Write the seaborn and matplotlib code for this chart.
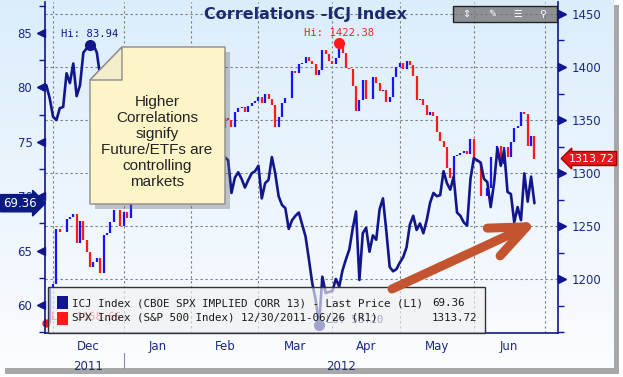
import numpy as np
import pandas as pd
import matplotlib
matplotlib.use("Agg")
import matplotlib.pyplot as plt
from matplotlib.patches import Polygon, Rectangle, FancyArrowPatch
from matplotlib.ticker import MultipleLocator
import seaborn as sns

# ---- data ----
holidays = ['2011-12-26', '2012-01-02', '2012-01-16', '2012-02-20', '2012-04-06', '2012-05-28']

icj_values = [
    80.2, 79.0, 77.3, 77.0, 78.1, 78.2, 81.3, 80.4, 82.2, 79.2, 80.2, 83.2, 83.6, 83.94, 83.9, 83.2, 81.0,
    80.2, 79.5, 80.1, 78.8, 79.3, 78.1, 77.4, 78.0, 76.9, 77.5, 76.2, 76.8, 75.9, 75.1, 75.8, 74.6, 75.3,
    74.2, 73.6, 74.4, 73.1, 73.8, 72.9, 73.5, 72.4, 73.2, 72.0, 72.8, 71.9, 72.6, 73.4, 72.5, 73.9, 73.0,
    74.1, 73.4, 73.6,
    73.3, 70.3, 71.7, 72.2, 71.6, 70.8, 71.5, 72.1, 72.3, 72.8, 69.8, 71.2, 71.5, 73.6, 72.1, 70.0, 69.2,
    68.9, 67.0, 67.8, 68.2, 68.5, 67.4, 66.3, 64.2, 62.0, 60.5, 58.2, 62.6, 61.1, 61.2, 61.3, 62.4, 61.7,
    63.2, 64.2, 65.1, 67.0, 68.6, 62.3, 66.6, 67.1, 64.9, 66.4, 66.0, 68.8, 69.8, 66.8, 63.5, 63.1, 63.3,
    63.9, 64.4, 65.3, 67.4, 68.2, 66.9, 67.5, 66.6, 67.8, 69.4, 70.3, 70.0, 70.1, 72.3, 71.2, 70.6, 71.8,
    68.5, 68.2, 67.6, 67.3, 71.6, 73.5, 73.3, 73.1, 71.6, 71.3, 69.0, 71.2, 74.4, 72.8, 74.2, 70.4, 70.2,
    67.6, 69.0, 67.8, 72.1, 69.5, 71.8, 69.36,
]

spx_prev_close = 1161.79
spx_close = [
    1158.67, 1192.55, 1195.19, 1246.96,
    1244.58, 1244.28, 1257.08, 1258.47, 1261.01, 1234.35, 1255.19, 1236.47, 1225.73, 1211.82, 1215.75,
    1219.66, 1205.35, 1241.30, 1243.72, 1254.00, 1265.33, 1265.43, 1249.64, 1263.02, 1257.60,
    1277.06, 1277.30, 1281.06, 1277.81, 1280.70, 1292.08, 1292.48, 1295.50, 1289.09, 1293.67, 1308.04,
    1314.50, 1315.38, 1316.00, 1314.65, 1326.06, 1318.43, 1316.33, 1313.01, 1312.41,
    1324.09, 1325.54, 1344.90, 1344.33, 1347.05, 1349.96, 1351.95, 1342.64, 1351.77, 1350.50, 1343.23,
    1358.04, 1361.23, 1362.21, 1357.66, 1363.46, 1365.74, 1367.59, 1372.18, 1365.68,
    1374.09, 1369.63, 1364.33, 1343.36, 1352.63, 1365.91, 1370.87, 1371.09, 1395.95, 1394.28, 1402.60,
    1404.17, 1409.75, 1405.52, 1402.89, 1392.78, 1397.11, 1416.51, 1412.52, 1405.54, 1403.28, 1408.47,
    1419.04, 1413.38, 1398.96, 1398.08, 1382.20, 1358.59, 1368.71, 1387.57, 1370.26, 1369.57, 1390.78,
    1385.14, 1376.92, 1378.53, 1366.94, 1371.97, 1390.69, 1399.98, 1403.36, 1397.91,
    1405.82, 1402.31, 1391.57, 1369.10, 1369.58, 1363.72, 1354.58, 1357.99, 1353.39, 1338.35, 1330.66,
    1324.80, 1304.86, 1295.22, 1315.99, 1316.63, 1318.86, 1320.68, 1317.82, 1332.42, 1313.32, 1310.33,
    1278.04, 1278.18, 1285.50, 1315.13, 1314.99, 1325.66, 1308.93, 1324.18, 1314.88, 1329.10, 1342.84,
    1344.78, 1357.98, 1355.69, 1325.51, 1335.02, 1313.72,
]

spx_hi, spx_hi_date = 1422.38, '2012-04-02'
spx_lo, spx_lo_date = 1158.66, '2011-11-25'
month_names = ['Dec', 'Jan', 'Feb', 'Mar', 'Apr', 'May', 'Jun']
year_names = ['2011', '2012']
note_lines = ['Higher', 'Correlations', 'signify', 'Future/ETFs are', 'controlling', 'markets']
legend_rows = ['ICJ Index (CBOE SPX IMPLIED CORR 13) - Last Price (L1)',
               'SPX Index (S&P 500 Index) 12/30/2011-06/26 (R1)']
title = 'Correlations -ICJ Index'

# ---- frame ----
hol = pd.to_datetime(holidays)
dates = pd.bdate_range('2011-11-25', '2012-06-25')
dates = dates[~dates.isin(hol)]
df = pd.DataFrame({'date': dates, 'icj': icj_values, 'spx': spx_close})
df['idx'] = np.arange(len(df))
df['prev'] = df['spx'].shift(1).fillna(spx_prev_close)
df['up'] = df['spx'] >= df['prev']

full = pd.bdate_range('2011-11-25', '2012-07-02')
full = full[~full.isin(hol)]
per = full.to_period('M')
starts = [i for i in range(1, len(full)) if per[i] != per[i - 1]]
bounds = np.array(starts) - 2.0
mids = (bounds[:-1] + bounds[1:]) / 2

navy = '#12168c'
tick_navy = '#1b2a80'
blue = '#1414ff'
red = '#ff1a1a'

W, H = 623, 377
def fx(px):
    return px / W
def fy(py):
    return 1 - py / H

sns.set_style('white')
plt.rcParams['font.family'] = ['DejaVu Sans']

fig = plt.figure(figsize=(6.23, 3.77), dpi=100)

# shadow + gradient background
fig.patches.append(Rectangle((fx(5), fy(374)), fx(614), fy(5) - fy(374), transform=fig.transFigure,
                             fc='#a8a8a8', ec='none', zorder=-20))
bg = fig.add_axes([0, fy(368), fx(614), fy(0) - fy(368)], zorder=-10)
grad = np.linspace(0, 1, 256)[:, None]
top = np.array([0.86, 0.93, 0.985])
bot = np.array([0.985, 0.99, 1.0])
img = top[None, None, :] * (1 - grad[:, :, None]) + bot[None, None, :] * grad[:, :, None]
bg.imshow(img, aspect='auto', extent=[0, 1, 0, 1])
bg.axis('off')

ax = fig.add_axes([fx(45), fy(333), fx(558) - fx(45), fy(2) - fy(333)])
ax2 = ax.twinx()
ax.set_zorder(2)
ax2.set_zorder(1)
ax.patch.set_visible(False)
ax2.patch.set_visible(False)

ax.set_xlim(-0.4, 152.0)
ax.set_ylim(57.43, 87.85)
ax2.set_ylim(1149.2, 1461.3)

# grid
for b in bounds:
    ax2.axvline(b, color='#7a7a7a', lw=0.8, ls=(0, (2, 2.5)), zorder=0)
for v in range(1200, 1451, 50):
    ax2.axhline(v, color='#7a7a7a', lw=0.8, ls=(0, (2, 2.5)), zorder=0)

# SPX bars (right axis)
ax2.vlines(df['idx'], np.minimum(df['prev'], df['spx']), np.maximum(df['prev'], df['spx']),
           colors=np.where(df['up'], blue, red), lw=1.6, zorder=2)

# ICJ line (left axis)
sns.lineplot(data=df, x='idx', y='icj', ax=ax, color=navy, lw=1.9, legend=False)
ax.set_xlabel('')
ax.set_ylabel('')

# hi / lo markers
i_hi = int(df['icj'].idxmax())
i_lo = int(df['icj'].idxmin())
ax.plot(i_hi, df['icj'][i_hi], 'o', ms=7, color=navy, zorder=5)
ax.annotate(f"Hi: {df['icj'][i_hi]:.2f}", (i_hi, df['icj'][i_hi]), xytext=(0, 4),
            textcoords='offset points', ha='center', va='bottom', color=navy,
            family='DejaVu Sans Mono', size=7.6, annotation_clip=False)
ax.plot(i_lo, df['icj'][i_lo], 'o', ms=7, color=navy, zorder=5)
ax.annotate(f"Lo: {df['icj'][i_lo]:.2f}", (i_lo, df['icj'][i_lo]), xytext=(5, 3),
            textcoords='offset points', ha='left', va='center', color=navy,
            family='DejaVu Sans Mono', size=7.6, annotation_clip=False)
j_hi = int(df.index[df['date'] == spx_hi_date][0])
j_lo = int(df.index[df['date'] == spx_lo_date][0])
ax2.plot(j_hi, spx_hi, 'o', ms=7, color=red, zorder=5)
ax2.annotate(f"Hi: {spx_hi:.2f}", (j_hi, spx_hi), xytext=(0, 4), textcoords='offset points',
             ha='center', va='bottom', color='#ff2020', family='DejaVu Sans Mono', size=7.6,
             annotation_clip=False)
ax2.plot(j_lo, spx_lo, 'o', ms=5, color=red, zorder=5, clip_on=False)
ax2.annotate(f"Lo: {spx_lo:.2f}", (j_lo, spx_lo), xytext=(3, 4), textcoords='offset points',
             ha='left', va='center', color='#ff2020', family='DejaVu Sans Mono', size=7.6,
             annotation_clip=False)

# spines
for a in (ax, ax2):
    a.spines['top'].set_visible(False)
ax.spines['right'].set_visible(False)
ax2.spines['left'].set_visible(False)
ax2.spines['bottom'].set_visible(False)
ax.spines['left'].set_color(navy)
ax.spines['bottom'].set_color(navy)
ax2.spines['right'].set_color(navy)
for s in (ax.spines['left'], ax.spines['bottom'], ax2.spines['right']):
    s.set_linewidth(1.2)

# y ticks
left_ticks = [60, 65, 70, 75, 80, 85]
right_ticks = [1200, 1250, 1300, 1350, 1400, 1450]
ax.set_yticks(left_ticks)
ax.yaxis.set_minor_locator(MultipleLocator(2.5))
ax.tick_params(axis='y', which='major', length=0, pad=9, labelcolor=tick_navy, labelsize=8.5)
ax.tick_params(axis='y', which='minor', length=4, color=navy, width=1)
ax.plot(np.full(len(left_ticks), -0.008), left_ticks, ls='', marker='<', ms=5.5, color=navy,
        transform=ax.get_yaxis_transform(), clip_on=False)
ax2.set_yticks(right_ticks)
ax2.yaxis.set_minor_locator(MultipleLocator(25))
ax2.tick_params(axis='y', which='major', length=0, pad=10, labelcolor=tick_navy, labelsize=8.5)
ax2.tick_params(axis='y', which='minor', length=4, color=navy, width=1)
ax2.plot(np.full(len(right_ticks), 1.008), right_ticks, ls='', marker='>', ms=5.5, color=navy,
         transform=ax2.get_yaxis_transform(), clip_on=False)

# x ticks
ax.set_xticks(bounds)
ax.set_xticklabels([''] * len(bounds))
ax.set_xticks(mids, minor=True)
ax.set_xticklabels(month_names, minor=True)
ax.tick_params(axis='x', which='major', length=5, color=navy, width=1)
ax.tick_params(axis='x', which='minor', length=0, pad=5, labelcolor=tick_navy, labelsize=8.5)
xt = ax.get_xaxis_transform()
ax.text(mids[0], -0.082, year_names[0], transform=xt, ha='center', va='top', color=tick_navy, size=8.5)
ax.text((bounds[1] + bounds[-1]) / 2 + 2, -0.082, year_names[1], transform=xt, ha='center', va='top',
        color=tick_navy, size=8.5)
ax.plot([bounds[1], bounds[1]], [-0.06, -0.105], transform=xt, color='#8a8ac0', lw=0.8, clip_on=False)

# last value tags
ax.text(-0.017, df['icj'].iloc[-1], f"{df['icj'].iloc[-1]:.2f}", transform=ax.get_yaxis_transform(),
        ha='right', va='center', color='white', size=8.5, zorder=6, clip_on=False,
        bbox=dict(boxstyle='rarrow,pad=0.18', fc='#0a1a80', ec='#0a1a80'))
ax2.text(1.021, df['spx'].iloc[-1], f"{df['spx'].iloc[-1]:.2f}", transform=ax2.get_yaxis_transform(),
         ha='left', va='center', color='white', size=8, zorder=6, clip_on=False,
         bbox=dict(boxstyle='larrow,pad=0.18', fc='#e8161b', ec='#a00000'))

# title
fig.text(fx(305), fy(14), title, ha='center', va='center', weight='bold', size=11.5,
         color='#1c2a6e', zorder=8)

# toolbar
fig.patches.append(Rectangle((fx(453), fy(22)), fx(104), fy(6) - fy(22), transform=fig.transFigure,
                             fc=(0.45, 0.45, 0.45, 0.75), ec='#222222', lw=1, zorder=8))
for x, g in zip([466, 492, 518, 543], ['\u21d5', '\u270e', '\u2630', '\u26b2']):
    fig.text(fx(x), fy(14), g, ha='center', va='center', color='white', size=7, zorder=9)

# legend box
fig.patches.append(Rectangle((fx(48), fy(333)), fx(485) - fx(48), fy(287) - fy(333),
                             transform=fig.transFigure, fc=(0.94, 0.94, 0.94, 0.65), ec='#333333',
                             lw=1, zorder=10))
fig.patches.append(Rectangle((fx(57), fy(309)), fx(11), fy(296) - fy(309), transform=fig.transFigure,
                             fc=navy, ec='none', zorder=11))
fig.patches.append(Rectangle((fx(57), fy(325)), fx(11), fy(312) - fy(325), transform=fig.transFigure,
                             fc=red, ec='none', zorder=11))
fig.text(fx(72), fy(303), legend_rows[0], va='center', family='DejaVu Sans Mono', size=7.8,
         color='#1a1a1a', zorder=12)
fig.text(fx(72), fy(318), legend_rows[1], va='center', family='DejaVu Sans Mono', size=7.8,
         color='#1a1a1a', zorder=12)
fig.text(fx(432), fy(303), f"{df['icj'].iloc[-1]:.2f}", va='center', family='DejaVu Sans Mono',
         size=7.8, color='#1a1a1a', zorder=12)
fig.text(fx(432), fy(318), f"{df['spx'].iloc[-1]:.2f}", va='center', family='DejaVu Sans Mono',
         size=7.8, color='#1a1a1a', zorder=12)

# sticky note
body = [(90, 80), (122, 47), (225, 47), (225, 204), (90, 204)]
shadow = [(x + 5, y + 5) for x, y in body]
fig.patches.append(Polygon([(fx(x), fy(y)) for x, y in shadow], closed=True, transform=fig.transFigure,
                           fc=(0.4, 0.4, 0.4, 0.35), ec='none', zorder=13))
fig.patches.append(Polygon([(fx(x), fy(y)) for x, y in body], closed=True, transform=fig.transFigure,
                           fc='#fdf5c8', ec='#8c8c8c', lw=1, zorder=14))
flap = [(90, 80), (122, 47), (122, 80)]
fig.patches.append(Polygon([(fx(x), fy(y)) for x, y in flap], closed=True, transform=fig.transFigure,
                           fc='#f4edcc', ec='#8c8c8c', lw=1, zorder=15))
fig.text(fx(157), fy(142), '\n'.join(note_lines), ha='center', va='center', family='Liberation Sans',
         size=11, linespacing=1.17, color='#222222', zorder=16)

# arrow
fig.patches.append(FancyArrowPatch((fx(392), fy(289)), (fx(537), fy(222)), transform=fig.transFigure,
                                   arrowstyle='->,head_length=2.6,head_width=1.1', mutation_scale=10,
                                   lw=6.5, color='#c4532f', shrinkA=0, shrinkB=0, zorder=17))

fig.savefig('out.png', dpi=100)
